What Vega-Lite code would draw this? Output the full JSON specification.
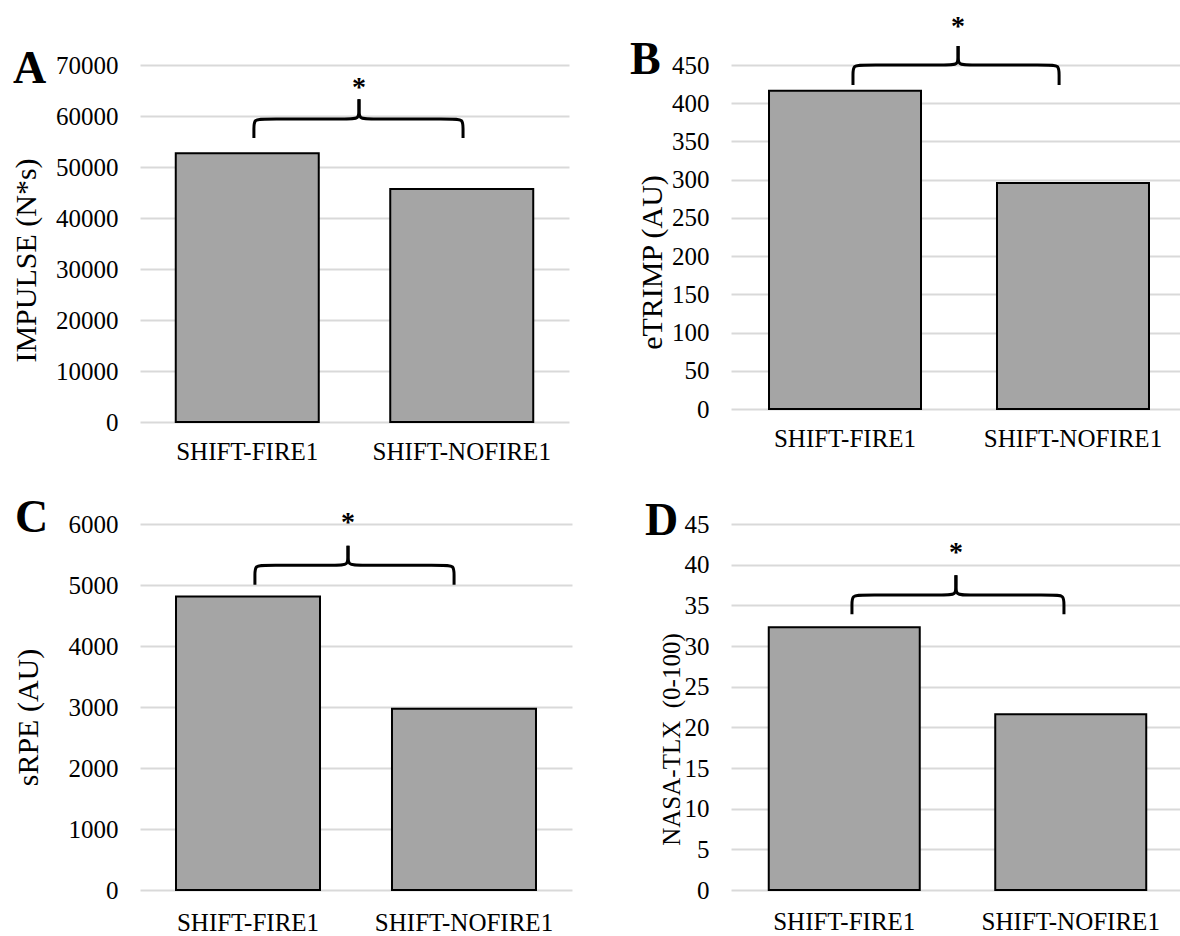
{
  "$schema": "https://vega.github.io/schema/vega-lite/v6.json",
  "background": "white",
  "padding": {"left": 11, "top": 12, "right": 0, "bottom": 0},
  "bounds": "flush",
  "align": "all",
  "columns": 2,
  "spacing": {"column": 142, "row": 93},
  "concat": [
    {
      "width": 429,
      "height": 357,
      "title": {"text": "A", "anchor": "start", "frame": "group", "orient": "top", "align": "left", "baseline": "alphabetic", "offset": 0, "dx": -127, "dy": 76, "fontSize": 46, "fontWeight": "bold", "font": "Liberation Serif", "color": "#000"},
      "encoding": {
        "y": {"field": "value", "type": "quantitative", "scale": {"domain": [0, 70000], "nice": false},
          "axis": {"title": "IMPULSE (N*s)", "values": [0, 10000, 20000, 30000, 40000, 50000, 60000, 70000], "format": "d", "titleX": -114, "titleY": 195, "titleFontSize": 30}}
      },
      "layer": [
        {
          "data": {"values": [{"cat": "SHIFT-FIRE1", "value": 52700}, {"cat": "SHIFT-NOFIRE1", "value": 45700}]},
          "mark": {"type": "bar", "fill": "#a5a5a5", "stroke": "#000", "strokeWidth": 2},
          "encoding": {"x": {"field": "cat", "type": "nominal", "sort": null, "scale": {"paddingInner": 0.3333, "paddingOuter": 0.1667}, "axis": {"title": null}}}
        },
        {
          "data": {"values": [
            {"side": "L", "i": 0, "pos": 0.531, "value": 55690},
            {"side": "L", "i": 1, "pos": 0.531, "value": 57450},
            {"side": "L", "i": 2, "pos": 0.531, "value": 59410},
            {"side": "L", "i": 3, "pos": 0.578, "value": 59410},
            {"side": "L", "i": 4, "pos": 0.974, "value": 59410},
            {"side": "L", "i": 5, "pos": 1.021, "value": 59410},
            {"side": "L", "i": 6, "pos": 1.021, "value": 61370},
            {"side": "L", "i": 7, "pos": 1.021, "value": 63270},
            {"side": "R", "i": 0, "pos": 1.506, "value": 55690},
            {"side": "R", "i": 1, "pos": 1.506, "value": 57450},
            {"side": "R", "i": 2, "pos": 1.506, "value": 59410},
            {"side": "R", "i": 3, "pos": 1.459, "value": 59410},
            {"side": "R", "i": 4, "pos": 1.068, "value": 59410},
            {"side": "R", "i": 5, "pos": 1.021, "value": 59410},
            {"side": "R", "i": 6, "pos": 1.021, "value": 61370},
            {"side": "R", "i": 7, "pos": 1.021, "value": 63270}
          ]},
          "mark": {"type": "line", "interpolate": "basis", "color": "#000", "strokeWidth": 3},
          "encoding": {
            "x": {"field": "pos", "type": "quantitative", "scale": {"domain": [0, 2], "nice": false, "zero": false}, "axis": null},
            "detail": {"field": "side"},
            "order": {"field": "i"}
          }
        },
        {
          "data": {"values": [{"pos": 1.021, "value": 66470, "mark": "*"}]},
          "mark": {"type": "text", "font": "Liberation Serif", "fontSize": 28, "fontWeight": "bold", "baseline": "alphabetic", "dy": 13, "color": "#000"},
          "encoding": {
            "x": {"field": "pos", "type": "quantitative", "scale": {"domain": [0, 2], "nice": false, "zero": false}, "axis": null},
            "text": {"field": "mark"}
          }
        }
      ],
      "resolve": {"scale": {"x": "independent"}, "axis": {"x": "independent"}}
    },
    {
      "width": 449,
      "height": 344,
      "title": {"text": "B", "anchor": "start", "frame": "group", "orient": "top", "align": "left", "baseline": "alphabetic", "offset": 0, "dx": -101, "dy": 107, "fontSize": 46, "fontWeight": "bold", "font": "Liberation Serif", "color": "#000"},
      "encoding": {
        "y": {"field": "value", "type": "quantitative", "scale": {"domain": [0, 450], "nice": false},
          "axis": {"title": "eTRIMP (AU)", "values": [0, 50, 100, 150, 200, 250, 300, 350, 400, 450], "format": "d", "titleX": -79, "titleY": 197, "titleFontSize": 30}}
      },
      "layer": [
        {
          "data": {"values": [{"cat": "SHIFT-FIRE1", "value": 416.4}, {"cat": "SHIFT-NOFIRE1", "value": 295.6}]},
          "mark": {"type": "bar", "fill": "#a5a5a5", "stroke": "#000", "strokeWidth": 2},
          "encoding": {"x": {"field": "cat", "type": "nominal", "sort": null, "scale": {"paddingInner": 0.3333, "paddingOuter": 0.1667, "range": [0, 456]}, "axis": {"title": null}}}
        },
        {
          "data": {"values": [
            {"side": "L", "i": 0, "pos": 0.535, "value": 423.8},
            {"side": "L", "i": 1, "pos": 0.535, "value": 436.9},
            {"side": "L", "i": 2, "pos": 0.535, "value": 450},
            {"side": "L", "i": 3, "pos": 0.579, "value": 450},
            {"side": "L", "i": 4, "pos": 0.952, "value": 450},
            {"side": "L", "i": 5, "pos": 0.996, "value": 450},
            {"side": "L", "i": 6, "pos": 0.996, "value": 463.1},
            {"side": "L", "i": 7, "pos": 0.996, "value": 474.9},
            {"side": "R", "i": 0, "pos": 1.439, "value": 423.8},
            {"side": "R", "i": 1, "pos": 1.439, "value": 436.9},
            {"side": "R", "i": 2, "pos": 1.439, "value": 450},
            {"side": "R", "i": 3, "pos": 1.395, "value": 450},
            {"side": "R", "i": 4, "pos": 1.040, "value": 450},
            {"side": "R", "i": 5, "pos": 0.996, "value": 450},
            {"side": "R", "i": 6, "pos": 0.996, "value": 463.1},
            {"side": "R", "i": 7, "pos": 0.996, "value": 474.9}
          ]},
          "mark": {"type": "line", "interpolate": "basis", "color": "#000", "strokeWidth": 3},
          "encoding": {
            "x": {"field": "pos", "type": "quantitative", "scale": {"domain": [0, 2], "nice": false, "zero": false, "range": [0, 456]}, "axis": null},
            "detail": {"field": "side"},
            "order": {"field": "i"}
          }
        },
        {
          "data": {"values": [{"pos": 0.996, "value": 506.6, "mark": "*"}]},
          "mark": {"type": "text", "font": "Liberation Serif", "fontSize": 28, "fontWeight": "bold", "baseline": "alphabetic", "dy": 13, "color": "#000"},
          "encoding": {
            "x": {"field": "pos", "type": "quantitative", "scale": {"domain": [0, 2], "nice": false, "zero": false, "range": [0, 456]}, "axis": null},
            "text": {"field": "mark"}
          }
        }
      ],
      "resolve": {"scale": {"x": "independent"}, "axis": {"x": "independent"}}
    },
    {
      "width": 432,
      "height": 366,
      "title": {"text": "C", "anchor": "start", "frame": "group", "orient": "top", "align": "left", "baseline": "alphabetic", "offset": 0, "dx": -125, "dy": 69, "fontSize": 46, "fontWeight": "bold", "font": "Liberation Serif", "color": "#000"},
      "encoding": {
        "y": {"field": "value", "type": "quantitative", "scale": {"domain": [0, 6000], "nice": false},
          "axis": {"title": "sRPE (AU)", "values": [0, 1000, 2000, 3000, 4000, 5000, 6000], "format": "d", "titleX": -112, "titleY": 193, "titleFontSize": 30}}
      },
      "layer": [
        {
          "data": {"values": [{"cat": "SHIFT-FIRE1", "value": 4813}, {"cat": "SHIFT-NOFIRE1", "value": 2972}]},
          "mark": {"type": "bar", "fill": "#a5a5a5", "stroke": "#000", "strokeWidth": 2},
          "encoding": {"x": {"field": "cat", "type": "nominal", "sort": null, "scale": {"paddingInner": 0.3333, "paddingOuter": 0.1667}, "axis": {"title": null, "labelPadding": 20}}}
        },
        {
          "data": {"values": [
            {"side": "L", "i": 0, "pos": 0.532, "value": 5006},
            {"side": "L", "i": 1, "pos": 0.532, "value": 5159},
            {"side": "L", "i": 2, "pos": 0.532, "value": 5324},
            {"side": "L", "i": 3, "pos": 0.578, "value": 5324},
            {"side": "L", "i": 4, "pos": 0.917, "value": 5324},
            {"side": "L", "i": 5, "pos": 0.963, "value": 5324},
            {"side": "L", "i": 6, "pos": 0.963, "value": 5489},
            {"side": "L", "i": 7, "pos": 0.963, "value": 5643},
            {"side": "R", "i": 0, "pos": 1.454, "value": 5006},
            {"side": "R", "i": 1, "pos": 1.454, "value": 5159},
            {"side": "R", "i": 2, "pos": 1.454, "value": 5324},
            {"side": "R", "i": 3, "pos": 1.408, "value": 5324},
            {"side": "R", "i": 4, "pos": 1.009, "value": 5324},
            {"side": "R", "i": 5, "pos": 0.963, "value": 5324},
            {"side": "R", "i": 6, "pos": 0.963, "value": 5489},
            {"side": "R", "i": 7, "pos": 0.963, "value": 5643}
          ]},
          "mark": {"type": "line", "interpolate": "basis", "color": "#000", "strokeWidth": 3},
          "encoding": {
            "x": {"field": "pos", "type": "quantitative", "scale": {"domain": [0, 2], "nice": false, "zero": false}, "axis": null},
            "detail": {"field": "side"},
            "order": {"field": "i"}
          }
        },
        {
          "data": {"values": [{"pos": 0.963, "value": 6093, "mark": "*"}]},
          "mark": {"type": "text", "font": "Liberation Serif", "fontSize": 28, "fontWeight": "bold", "baseline": "alphabetic", "dy": 13, "color": "#000"},
          "encoding": {
            "x": {"field": "pos", "type": "quantitative", "scale": {"domain": [0, 2], "nice": false, "zero": false}, "axis": null},
            "text": {"field": "mark"}
          }
        }
      ],
      "resolve": {"scale": {"x": "independent"}, "axis": {"x": "independent"}}
    },
    {
      "width": 449,
      "height": 366,
      "title": {"text": "D", "anchor": "start", "frame": "group", "orient": "top", "align": "left", "baseline": "alphabetic", "offset": 0, "dx": -86, "dy": 69, "fontSize": 46, "fontWeight": "bold", "font": "Liberation Serif", "color": "#000"},
      "encoding": {
        "y": {"field": "value", "type": "quantitative", "scale": {"domain": [0, 45], "nice": false},
          "axis": {"title": "NASA-TLX\u00a0 (0-100)", "values": [0, 5, 10, 15, 20, 25, 30, 35, 40, 45], "format": "d", "titleX": -60, "titleY": 215, "titleFontSize": 25}}
      },
      "layer": [
        {
          "data": {"values": [{"cat": "SHIFT-FIRE1", "value": 32.3}, {"cat": "SHIFT-NOFIRE1", "value": 21.6}]},
          "mark": {"type": "bar", "fill": "#a5a5a5", "stroke": "#000", "strokeWidth": 2},
          "encoding": {"x": {"field": "cat", "type": "nominal", "sort": null, "scale": {"paddingInner": 0.3333, "paddingOuter": 0.1667, "range": [0, 453]}, "axis": {"title": null, "labelPadding": 19}}}
        },
        {
          "data": {"values": [
            {"side": "L", "i": 0, "pos": 0.534, "value": 33.9},
            {"side": "L", "i": 1, "pos": 0.534, "value": 35.04},
            {"side": "L", "i": 2, "pos": 0.534, "value": 36.26},
            {"side": "L", "i": 3, "pos": 0.578, "value": 36.26},
            {"side": "L", "i": 4, "pos": 0.949, "value": 36.26},
            {"side": "L", "i": 5, "pos": 0.993, "value": 36.26},
            {"side": "L", "i": 6, "pos": 0.993, "value": 37.48},
            {"side": "L", "i": 7, "pos": 0.993, "value": 38.7},
            {"side": "R", "i": 0, "pos": 1.470, "value": 33.9},
            {"side": "R", "i": 1, "pos": 1.470, "value": 35.04},
            {"side": "R", "i": 2, "pos": 1.470, "value": 36.26},
            {"side": "R", "i": 3, "pos": 1.426, "value": 36.26},
            {"side": "R", "i": 4, "pos": 1.037, "value": 36.26},
            {"side": "R", "i": 5, "pos": 0.993, "value": 36.26},
            {"side": "R", "i": 6, "pos": 0.993, "value": 37.48},
            {"side": "R", "i": 7, "pos": 0.993, "value": 38.7}
          ]},
          "mark": {"type": "line", "interpolate": "basis", "color": "#000", "strokeWidth": 3},
          "encoding": {
            "x": {"field": "pos", "type": "quantitative", "scale": {"domain": [0, 2], "nice": false, "zero": false, "range": [0, 453]}, "axis": null},
            "detail": {"field": "side"},
            "order": {"field": "i"}
          }
        },
        {
          "data": {"values": [{"pos": 0.993, "value": 42.0, "mark": "*"}]},
          "mark": {"type": "text", "font": "Liberation Serif", "fontSize": 28, "fontWeight": "bold", "baseline": "alphabetic", "dy": 13, "color": "#000"},
          "encoding": {
            "x": {"field": "pos", "type": "quantitative", "scale": {"domain": [0, 2], "nice": false, "zero": false, "range": [0, 453]}, "axis": null},
            "text": {"field": "mark"}
          }
        }
      ],
      "resolve": {"scale": {"x": "independent"}, "axis": {"x": "independent"}}
    }
  ],
  "config": {
    "view": {"stroke": null},
    "font": "Liberation Serif",
    "axisY": {"grid": true, "gridColor": "#d9d9d9", "gridWidth": 2, "domain": false, "ticks": false, "labelPadding": 22, "labelFontSize": 25, "labelColor": "#000", "labelFont": "Liberation Serif", "titleFont": "Liberation Serif", "titleFontWeight": "normal", "titleColor": "#000", "titleBaseline": "middle"},
    "axisX": {"domain": false, "ticks": false, "grid": false, "labelPadding": 17, "labelFontSize": 25, "labelAngle": 0, "labelColor": "#000", "labelFont": "Liberation Serif"}
  }
}
